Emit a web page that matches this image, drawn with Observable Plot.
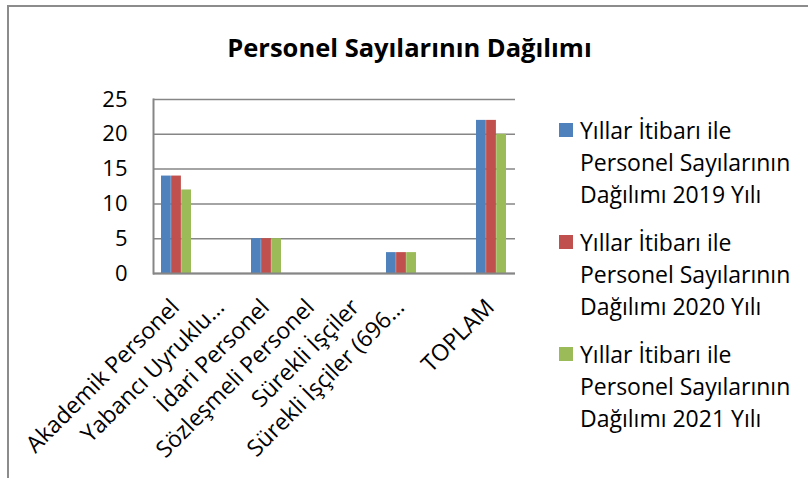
<!DOCTYPE html>
<html>
<head>
<meta charset="utf-8">
<script src="https://cdn.jsdelivr.net/npm/d3@7"></script>
<script src="https://cdn.jsdelivr.net/npm/@observablehq/plot@0.6"></script>
<style>
  html, body { margin: 0; padding: 0; background: #fff; }
  #wrap { position: relative; width: 808px; height: 478px; overflow: hidden; font-family: "Open Sans", "Noto Sans", sans-serif; }
  #border { position: absolute; left: 7px; top: 5px; width: 810px; height: 480px; border-top: 2px solid #8c8c8c; border-left: 2px solid #8c8c8c; }
  #title { position: absolute; left: 0; width: 819px; top: 32px; text-align: center; font-weight: bold; font-size: 25.5px; line-height: 30px; color: #000; }
  #chart { position: absolute; left: 0; top: 0; }
  .entry { position: absolute; left: 559px; width: 245px; }
  .sw { position: absolute; left: 0; top: 9px; width: 14px; height: 14px; }
  .txt { position: absolute; left: 21px; top: 0; font-size: 23px; line-height: 32px; color: #000; white-space: nowrap; }
</style>
</head>
<body>
<div id="wrap">
  <div id="border"></div>
  <div id="title">Personel Sayılarının Dağılımı</div>
  <div id="chart"></div>
  <div id="legend"></div>
</div>
<script>
const categories = ["Akademik Personel", "Yabancı Uyruklu…", "İdari Personel", "Sözleşmeli Personel", "Sürekli İşçiler", "Sürekli İşçiler (696…", " ", "TOPLAM"];
const seriesNames = [
  "Yıllar İtibarı ile Personel Sayılarının Dağılımı 2019 Yılı",
  "Yıllar İtibarı ile Personel Sayılarının Dağılımı 2020 Yılı",
  "Yıllar İtibarı ile Personel Sayılarının Dağılımı 2021 Yılı"
];
const legendLines = [
  ["Yıllar İtibarı ile", "Personel Sayılarının", "Dağılımı 2019 Yılı"],
  ["Yıllar İtibarı ile", "Personel Sayılarının", "Dağılımı 2020 Yılı"],
  ["Yıllar İtibarı ile", "Personel Sayılarının", "Dağılımı 2021 Yılı"]
];
const values2019 = [14, 0, 5, 0, 0, 3, null, 22];
const values2020 = [14, 0, 5, 0, 0, 3, null, 22];
const values2021 = [12, 0, 5, 0, 0, 3, null, 20];
const yTicks = [0, 5, 10, 15, 20, 25];
const colors = ["#4F81BD", "#C0504D", "#9BBB59"];

const allValues = [values2019, values2020, values2021];
const rows = allValues.map((vals, s) =>
  categories.map((c, i) => ({category: c, value: vals[i], series: seriesNames[s]}))
    .filter(d => d.value != null)
);

const barW = 10.1;
const gridColor = "#868686";

const chart = Plot.plot({
  width: 808,
  height: 478,
  marginLeft: 153,
  marginRight: 293,
  marginTop: 99,
  marginBottom: 205,
  style: {fontFamily: "'Open Sans', 'Noto Sans', sans-serif", fontSize: "22px", background: "transparent", color: "#000", overflow: "visible"},
  x: {domain: categories, paddingInner: 0.33, paddingOuter: 0.165, label: null},
  y: {domain: [0, 25], label: null},
  color: {domain: seriesNames, range: colors},
  marks: [
    Plot.gridY(yTicks, {stroke: gridColor, strokeOpacity: 1, strokeWidth: 1.5}),
    ...rows.map((data, s) => Plot.barY(data, {
      x: "category", y: "value", fill: "series",
      insetLeft: s * barW, insetRight: (2 - s) * barW
    })),
    Plot.ruleY([0], {stroke: gridColor, strokeWidth: 2}),
    Plot.frame({anchor: "left", stroke: gridColor, strokeWidth: 2}),
    Plot.axisY(yTicks, {tickSize: 0, tickPadding: 26, label: null, fontSize: 22}),
    Plot.axisX({tickSize: 0, tickPadding: 30, dx: -1, tickRotate: -45, label: null, fontSize: 23})
  ]
});
document.getElementById("chart").appendChild(chart);

const legend = document.getElementById("legend");
legendLines.forEach((lines, s) => {
  const e = document.createElement("div");
  e.className = "entry";
  e.style.top = (114 + s * 112) + "px";
  const sw = document.createElement("div");
  sw.className = "sw";
  sw.style.background = colors[s];
  const t = document.createElement("div");
  t.className = "txt";
  t.innerHTML = lines.join("<br>");
  e.appendChild(sw);
  e.appendChild(t);
  legend.appendChild(e);
});
</script>
</body>
</html>
